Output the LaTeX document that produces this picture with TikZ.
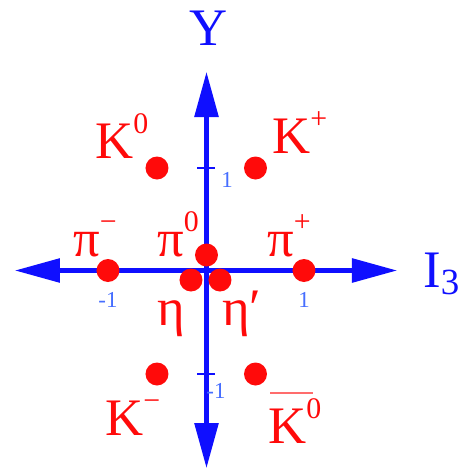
\documentclass[tikz,border=0pt]{standalone}
\usepackage{fontspec}
\setmainfont{Liberation Serif}
\usepackage{xcolor}
\usepackage{tikz}
\usetikzlibrary{arrows.meta}
\definecolor{myred}{RGB}{255,10,10}
\definecolor{myblue}{RGB}{15,15,255}
\definecolor{mytick}{RGB}{70,110,255}
% superscript and subscript in the labels
\newcommand{\up}[1]{\raisebox{0.47em}{\fontsize{17}{17}\selectfont #1}}
\newcommand{\dn}[1]{\raisebox{-0.15em}{\fontsize{21}{21}\selectfont #1}}
\newcommand{\kbar}{\makebox[0pt][l]{\hspace{0.04cm}\raisebox{0.93em}{\textcolor{myred!60}{\rule{0.86cm}{1.1pt}}}}}
\tikzset{
  axis/.style={{Triangle[length=0.9cm, width=0.47cm]}-{Triangle[length=0.9cm, width=0.47cm]},
    line width=2.4pt, color=myblue},
  tickmark/.style={line width=1.6pt, color=myblue},
  meson/.style={circle, fill=myred, minimum size=0.46cm, inner sep=0pt},
  lbl/.style={font=\fontsize{30}{30}\selectfont, text=myred, inner sep=0pt, anchor=base west},
  axlbl/.style={font=\fontsize{30}{30}\selectfont, text=myblue, inner sep=0pt, anchor=base west},
  ticklbl/.style={font=\fontsize{13}{13}\selectfont, text=mytick, inner sep=0pt}
}
\begin{document}
\begin{tikzpicture}[x=2cm, y=2cm]
  \useasboundingbox (-2.065,-2.025) rectangle (2.535,2.705);

  % axes
  \coordinate (ytop) at (0,1.985);
  \coordinate (ybot) at (0,-1.975);
  \coordinate (xleft) at (-1.915,0);
  \coordinate (xright) at (1.905,0);
  \draw[axis] (ybot) -- (ytop);
  \draw[axis] (xleft) -- (xright);
  \draw[tickmark] (-0.09,1.025) -- (0.09,1.025);
  \draw[tickmark] (-0.09,-1.035) -- (0.09,-1.035);

  \node[axlbl, anchor=base] (ylbl) at (0.025,2.255) {Y};
  \node[axlbl] (ilbl) at (2.165,-0.165) {I\dn{3}};

  % tick labels
  \node[ticklbl] (yone) at (0.205,0.905) {1};
  \node[ticklbl] (ymone) at (0.095,-1.205) {-1};
  \node[ticklbl] (xmone) at (-0.985,-0.295) {-1};
  \node[ticklbl] (xone) at (0.975,-0.295) {1};

  % nonet of pseudoscalar mesons
  \node[meson] (k0) at (-0.495,1.025) {};
  \node[meson] (kp) at (0.49,1.025) {};
  \node[meson] (pim) at (-0.985,0) {};
  \node[meson] (pip) at (0.975,0) {};
  \node[meson] (pi0) at (0,0.155) {};
  \node[meson] (eta) at (-0.155,-0.095) {};
  \node[meson] (etap) at (0.135,-0.095) {};
  \node[meson] (km) at (-0.495,-1.035) {};
  \node[meson] (k0b) at (0.49,-1.035) {};

  \node[lbl] (k0lbl) at (-1.115,1.125) {K\up{0}};
  \node[lbl] (kplbl) at (0.655,1.175) {K\up{+}};
  \node[lbl] (pimlbl) at (-1.335,0.145) {π\up{−}};
  \node[lbl] (pi0lbl) at (-0.495,0.145) {π\up{0}};
  \node[lbl] (piplbl) at (0.605,0.145) {π\up{+}};
  \node[lbl] (etalbl) at (-0.495,-0.545) {η};
  \node[lbl] (etaplbl) at (0.155,-0.545) {η′};
  \node[lbl] (kmlbl) at (-1.015,-1.645) {K\up{−}};
  \node[lbl] (k0blbl) at (0.615,-1.725) {\kbar K\up{0}};
\end{tikzpicture}
\end{document}
